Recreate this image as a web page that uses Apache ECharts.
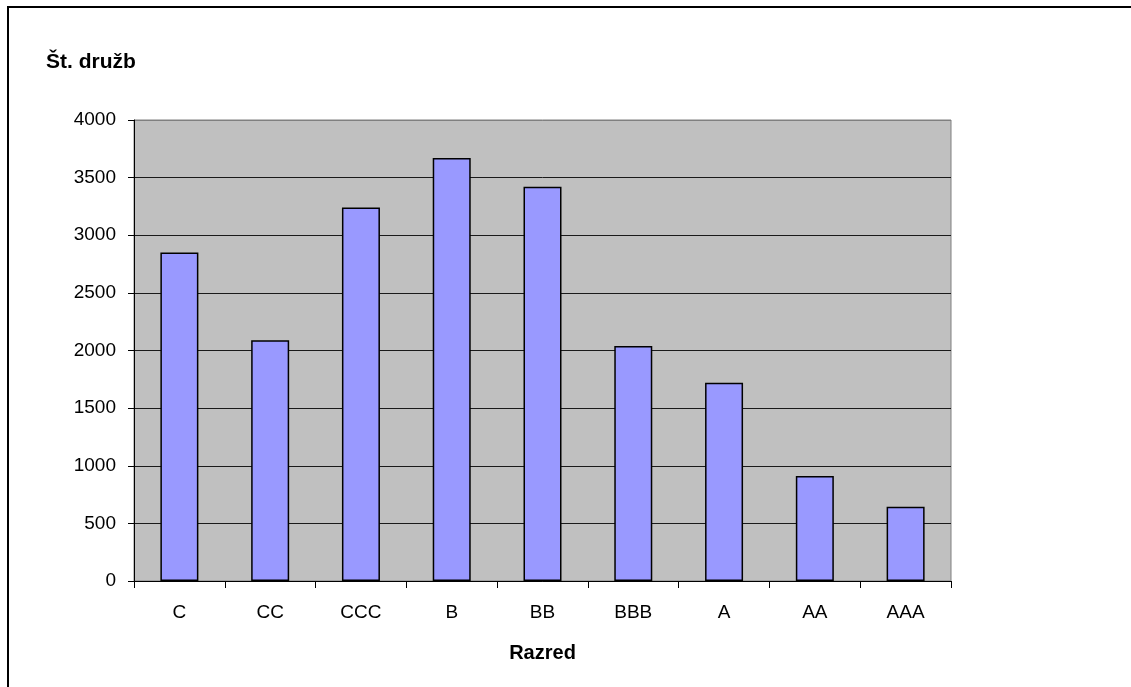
<!DOCTYPE html>
<html>
<head>
<meta charset="utf-8">
<script src="https://cdn.jsdelivr.net/npm/echarts@6/dist/echarts.min.js"></script>
<style>
  html, body { margin: 0; padding: 0; background: #fff; }
  #chart { width: 1131px; height: 687px; }
</style>
</head>
<body>
<div id="chart"></div>
<script>
// Number of companies per rating class
const categories = ['C', 'CC', 'CCC', 'B', 'BB', 'BBB', 'A', 'AA', 'AAA'];
const counts = [2850, 2090, 3240, 3670, 3420, 2040, 1720, 910, 645];
const yTicks = { min: 0, max: 4000, interval: 500 };

const FONT = 'Arial, "Liberation Sans", sans-serif';

// grid lines dark, the top one matches the gray plot frame
const splitColors = [];
for (let v = yTicks.min; v <= yTicks.max; v += yTicks.interval) {
  splitColors.push(v === yTicks.max ? '#808080' : '#1a1a1a');
}

const chart = echarts.init(document.getElementById('chart'), null, { renderer: 'canvas' });

chart.setOption({
  animation: false,
  backgroundColor: '#fff',
  title: {
    text: 'Št. družb',
    left: 41,
    top: 47,
    textStyle: { fontFamily: FONT, fontSize: 21, fontWeight: 'bold', color: '#000' }
  },
  graphic: [
    {
      // outer chart frame
      type: 'rect',
      silent: true,
      shape: { x: 8, y: 7, width: 1300, height: 900 },
      style: { fill: 'none', stroke: '#000', lineWidth: 2 }
    }
  ],
  grid: {
    left: 134,
    right: 180,
    top: 120,
    bottom: 106,
    show: true,
    backgroundColor: '#c0c0c0',
    borderColor: '#808080',
    borderWidth: 1
  },
  xAxis: {
    type: 'category',
    data: categories,
    name: 'Razred',
    nameLocation: 'middle',
    nameGap: 62,
    nameTextStyle: { fontFamily: FONT, fontSize: 20, fontWeight: 'bold', color: '#000' },
    axisLine: { lineStyle: { color: '#000', width: 1 } },
    axisTick: { show: true, length: 7, lineStyle: { color: '#000' } },
    axisLabel: { margin: 22, fontFamily: FONT, fontSize: 19, color: '#000' },
    splitLine: { show: false }
  },
  yAxis: {
    type: 'value',
    min: yTicks.min,
    max: yTicks.max,
    interval: yTicks.interval,
    axisLine: { show: true, lineStyle: { color: '#000', width: 1 } },
    axisTick: { show: true, length: 6, lineStyle: { color: '#000' } },
    axisLabel: {
      margin: 18,
      fontFamily: FONT,
      fontSize: 19,
      color: '#000',
      formatter: (v) => String(v)
    },
    splitLine: { show: true, lineStyle: { color: splitColors, width: 1 } }
  },
  series: [
    {
      type: 'bar',
      data: counts,
      barWidth: 38,
      itemStyle: { color: '#9999ff', borderColor: '#000', borderWidth: 1.5 }
    }
  ]
});
</script>
</body>
</html>
